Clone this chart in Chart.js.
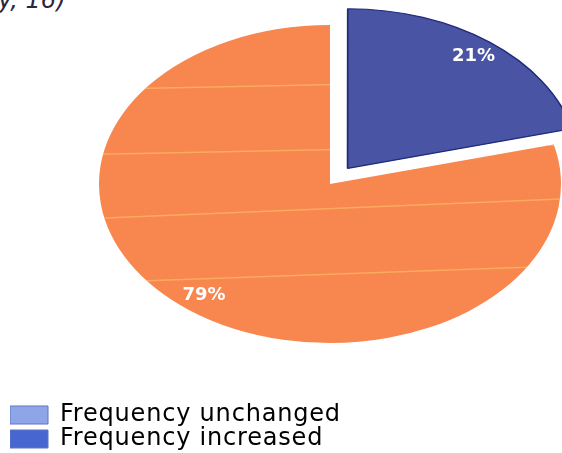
<!DOCTYPE html>
<html>
<head>
<meta charset="utf-8">
<script src="https://cdn.jsdelivr.net/npm/chart.js@4.4.1/dist/chart.umd.min.js"></script>
<style>
  html, body { margin: 0; padding: 0; background: #fff; overflow: hidden; }
  #wrap { position: relative; width: 562px; height: 453px; overflow: hidden; }
  #cut { position: absolute; left: -2px; top: -14px; font: italic 24px "DejaVu Sans", sans-serif; color: #2b2540; white-space: nowrap; }
  canvas { position: absolute; left: 0; top: 0; }
</style>
</head>
<body>
<div id="wrap">
  <div id="cut">y, 16)</div>
  <canvas id="pie-chart" width="562" height="461"></canvas>
</div>
<script>
const sliceLabels = ['Frequency increased', 'Frequency unchanged'];
const sliceValues = [21, 79];
const sliceColors = ['#4a54a4', '#f7864f'];
const legendLabels = ['Frequency unchanged', 'Frequency increased'];
const legendColors = ['#8ea6e8', '#4766d0'];

// the round pie gets squashed into this ellipse (px)
const ELLIPSE = { cx: 330, cy: 184, rx: 231, ry: 159 };
// faint light streaks across the orange slice: [y at left, y at right]
const STREAKS = [[90, 80], [155, 145], [220, 199], [284, 266]];

function ellipseMap(chart) {
  const arc = chart.getDatasetMeta(0).data[0];
  const r = arc.outerRadius;
  return { x0: arc.x, y0: arc.y, sx: ELLIPSE.rx / r, sy: ELLIPSE.ry / r };
}

const squashPie = {
  id: 'squashPie',
  beforeDraw(chart) {
    // wider tracking for the legend text
    chart.ctx.letterSpacing = '0.8px';
  },
  beforeDatasetsDraw(chart) {
    const m = ellipseMap(chart);
    const ctx = chart.ctx;
    ctx.save();
    ctx.translate(ELLIPSE.cx, ELLIPSE.cy);
    ctx.scale(m.sx, m.sy);
    ctx.translate(-m.x0, -m.y0);
  },
  afterDatasetsDraw(chart) {
    const ctx = chart.ctx;
    const meta = chart.getDatasetMeta(0);

    // streaks, clipped to the big slice
    const big = meta.data[1];
    ctx.save();
    ctx.beginPath();
    ctx.moveTo(big.x, big.y);
    ctx.arc(big.x, big.y, big.outerRadius, big.startAngle, big.endAngle);
    ctx.closePath();
    ctx.clip();
    ctx.setTransform(1, 0, 0, 1, 0, 0);
    ctx.strokeStyle = 'rgba(255, 208, 110, 0.5)';
    ctx.lineWidth = 1.5;
    STREAKS.forEach(([y1, y2]) => {
      ctx.beginPath();
      ctx.moveTo(60, y1);
      ctx.lineTo(562, y2);
      ctx.stroke();
    });
    ctx.restore();

    ctx.restore();

    // percent labels along each slice's middle angle
    const m = ellipseMap(chart);
    const total = sliceValues.reduce((a, b) => a + b, 0);
    ctx.save();
    ctx.letterSpacing = '0px';
    ctx.fillStyle = '#ffffff';
    ctx.font = 'bold 18px "DejaVu Sans", sans-serif';
    ctx.textAlign = 'center';
    ctx.textBaseline = 'middle';
    meta.data.forEach((arc, i) => {
      const mid = (arc.startAngle + arc.endAngle) / 2;
      // arc elements shift by a quarter of the offset option
      const off = (arc.options.offset || 0) / 4;
      const d = arc.outerRadius * 0.89 + off;
      const px = ELLIPSE.cx + Math.cos(mid) * d * m.sx;
      const py = ELLIPSE.cy + Math.sin(mid) * d * m.sy;
      ctx.fillText(Math.round(sliceValues[i] / total * 100) + '%', px, py);
    });
    ctx.restore();
  }
};

function initChart() {
  const ctx = document.getElementById('pie-chart').getContext('2d');
  new Chart(ctx, {
    type: 'pie',
    data: {
      labels: sliceLabels,
      datasets: [{
        data: sliceValues,
        backgroundColor: sliceColors,
        borderColor: ['#1f2a78', '#f7864f'],
        borderWidth: [1.2, 0],
        offset: [80, 0],
        clip: false
      }]
    },
    options: {
      responsive: false,
      animation: false,
      events: [],
      layout: { padding: { left: 10, bottom: 0 } },
      plugins: {
        legend: {
          position: 'bottom',
          align: 'start',
          labels: {
            boxWidth: 38,
            boxHeight: 18,
            padding: 0,
            color: '#262626',
            font: { family: '"DejaVu Sans", sans-serif', size: 24 },
            generateLabels: () => legendLabels.map((text, i) => ({
              text: text,
              fillStyle: legendColors[i],
              strokeStyle: '#5f74c8',
              lineWidth: 1,
              hidden: false,
              index: i
            }))
          }
        },
        tooltip: { enabled: false }
      }
    },
    plugins: [squashPie]
  });
}

document.addEventListener('DOMContentLoaded', initChart);
</script>
</body>
</html>
